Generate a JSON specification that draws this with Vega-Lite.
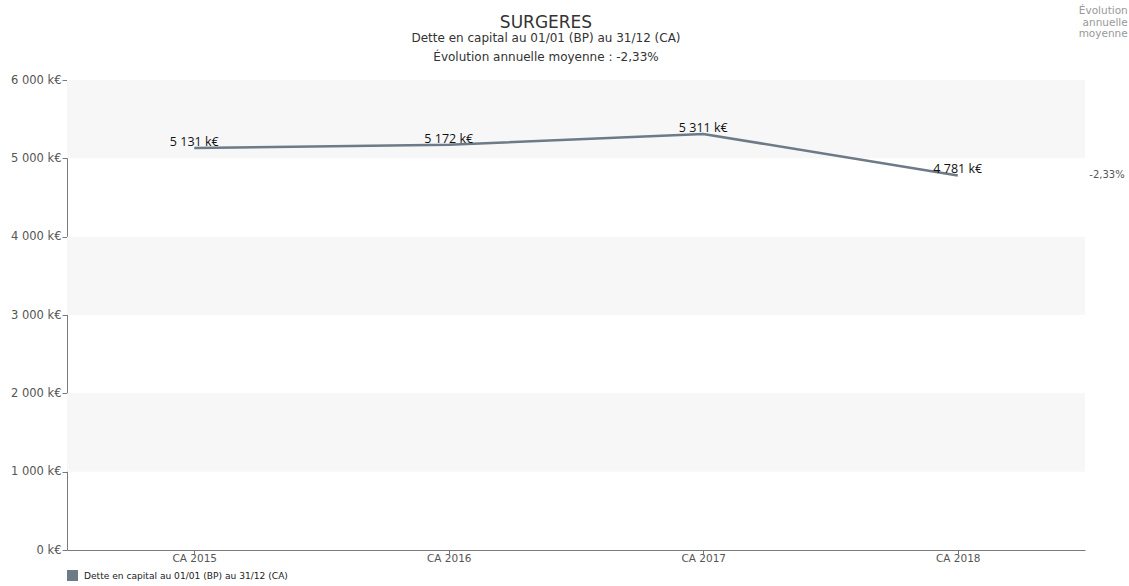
{
  "$schema": "https://vega.github.io/schema/vega-lite/v6.json",
  "width": 1018,
  "height": 470,
  "autosize": {"type": "none"},
  "padding": {"left": 67, "top": 80, "right": 44, "bottom": 36},
  "background": "white",
  "title": {
    "text": "SURGERES",
    "subtitle": ["Dette en capital au 01/01 (BP) au 31/12 (CA)", "Évolution annuelle moyenne : -2,33%"],
    "anchor": "middle",
    "dx": -30,
    "offset": -58,
    "font": "DejaVu Sans",
    "fontSize": 17,
    "fontWeight": "normal",
    "color": "#333333",
    "subtitleFont": "DejaVu Sans",
    "subtitleFontSize": 12,
    "subtitleColor": "#333333",
    "subtitleLineHeight": 19,
    "subtitlePadding": 1
  },
  "config": {
    "locale": {"number": {"decimal": ",", "thousands": " ", "grouping": [3], "currency": ["", " k€"]}},
    "view": {"stroke": null},
    "axis": {"labelFont": "DejaVu Sans", "labelFontSize": 11, "labelColor": "#555555", "domainColor": "#7a7a7a", "tickColor": "#7a7a7a", "grid": false, "title": null}
  },
  "datasets": {
    "dette": [
      {"annee": "CA 2015", "dette": 5131, "serie": "Dette en capital au 01/01 (BP) au 31/12 (CA)"},
      {"annee": "CA 2016", "dette": 5172, "serie": "Dette en capital au 01/01 (BP) au 31/12 (CA)"},
      {"annee": "CA 2017", "dette": 5311, "serie": "Dette en capital au 01/01 (BP) au 31/12 (CA)"},
      {"annee": "CA 2018", "dette": 4781, "serie": "Dette en capital au 01/01 (BP) au 31/12 (CA)"}
    ],
    "bandes": [
      {"de": 1000, "a": 2000},
      {"de": 3000, "a": 4000},
      {"de": 5000, "a": 6000}
    ]
  },
  "layer": [
    {
      "data": {"name": "bandes"},
      "mark": {"type": "rect", "color": "#f7f7f7"},
      "encoding": {
        "y": {"field": "de", "type": "quantitative", "scale": {"domain": [0, 6000], "nice": false}},
        "y2": {"field": "a"}
      }
    },
    {
      "data": {"name": "dette"},
      "mark": {"type": "line", "strokeWidth": 2.5},
      "encoding": {
        "x": {"field": "annee", "type": "ordinal", "scale": {"type": "point", "padding": 0.5},
          "axis": {"labelAngle": 0, "tickSize": 4, "labelPadding": -1, "labelFontSize": 10.5}},
        "y": {"field": "dette", "type": "quantitative", "scale": {"domain": [0, 6000], "nice": false},
          "axis": {"values": [0, 500, 1000, 1500, 2000, 2500, 3000, 3500, 4000, 4500, 5000, 5500, 6000],
            "format": "$,d",
            "labelExpr": "datum.value % 1000 === 0 ? datum.label : ''",
            "tickSize": {"condition": {"test": "datum.value % 1000 === 0", "value": 5}, "value": 2},
            "labelPadding": 1, "labelFontSize": 11.5}},
        "color": {"field": "serie", "type": "nominal", "scale": {"range": ["#6d7a87"]},
          "legend": {"orient": "none", "legendX": 0, "legendY": 490, "title": null, "symbolType": "square", "symbolSize": 121, "symbolFillColor": "#6d7a87", "symbolStrokeColor": "#6d7a87", "symbolStrokeWidth": 0, "labelFont": "DejaVu Sans", "labelFontSize": 9.1, "labelColor": "#222222", "labelLimit": 500, "labelOffset": 6}}
      }
    },
    {
      "data": {"name": "dette"},
      "mark": {"type": "text", "baseline": "bottom", "dy": 1, "font": "Open Sans", "fontSize": 12.5, "color": "#111111"},
      "encoding": {
        "x": {"field": "annee", "type": "ordinal"},
        "y": {"field": "dette", "type": "quantitative"},
        "text": {"field": "dette", "type": "quantitative", "format": "$,d"}
      }
    },
    {
      "data": {"name": "dette"},
      "transform": [{"filter": "datum.annee === 'CA 2018'"}],
      "mark": {"type": "text", "align": "right", "baseline": "middle", "dx": 167, "dy": 0, "font": "DejaVu Sans", "fontSize": 10, "color": "#555555", "text": "-2,33%"},
      "encoding": {
        "x": {"field": "annee", "type": "ordinal"},
        "y": {"field": "dette", "type": "quantitative"}
      }
    },
    {
      "data": {"name": "dette"},
      "transform": [{"filter": "datum.annee === 'CA 2018'"}],
      "mark": {"type": "text", "align": "right", "baseline": "middle", "dx": 170, "dy": -69, "lineHeight": 11.5, "font": "DejaVu Sans", "fontSize": 10.5, "color": "#999999", "text": ["Évolution", "annuelle", "moyenne"]},
      "encoding": {
        "x": {"field": "annee", "type": "ordinal"},
        "y": {"datum": 6000, "type": "quantitative"}
      }
    }
  ]
}
